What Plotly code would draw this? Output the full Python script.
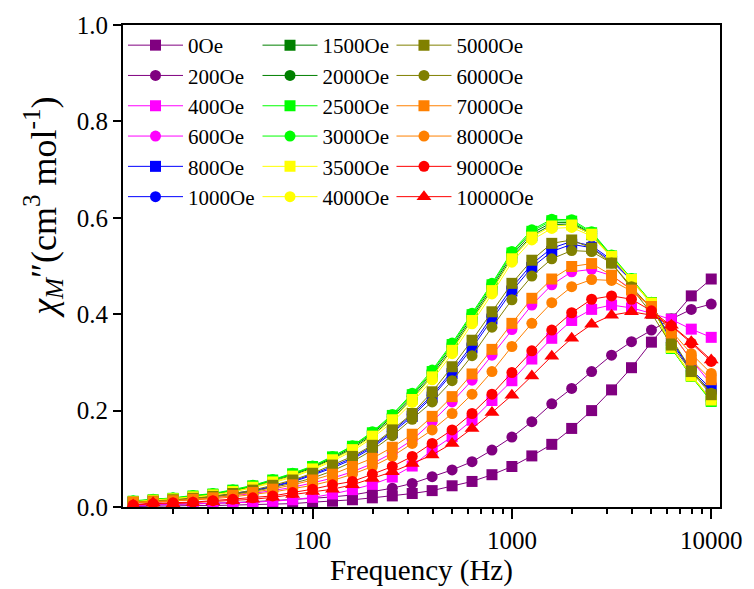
import plotly.graph_objects as go

freq = [12.59, 15.85, 19.95, 25.12, 31.62, 39.81, 50.12, 63.10, 79.43, 100.0,
        125.9, 158.5, 199.5, 251.2, 316.2, 398.1, 501.2, 631.0, 794.3, 1000.0,
        1259, 1585, 1995, 2512, 3162, 3981, 5012, 6310, 7943, 10000]

fields = ["0Oe", "200Oe", "400Oe", "600Oe", "800Oe", "1000Oe",
          "1500Oe", "2000Oe", "2500Oe", "3000Oe", "3500Oe", "4000Oe",
          "5000Oe", "6000Oe", "7000Oe", "8000Oe", "9000Oe", "10000Oe"]

chi_0 = [0.001, 0.002, 0.002, 0.003, 0.003, 0.004, 0.005, 0.006, 0.007, 0.010,
         0.012, 0.015, 0.019, 0.023, 0.028, 0.034, 0.044, 0.053, 0.067, 0.084,
         0.106, 0.130, 0.163, 0.200, 0.243, 0.289, 0.342, 0.390, 0.438, 0.473]
chi_200 = [0.003, 0.004, 0.005, 0.006, 0.007, 0.009, 0.011, 0.013, 0.015, 0.018,
           0.021, 0.025, 0.032, 0.039, 0.049, 0.063, 0.077, 0.094, 0.118, 0.145,
           0.177, 0.214, 0.246, 0.281, 0.315, 0.343, 0.367, 0.390, 0.410, 0.421]
chi_400 = [0.003, 0.004, 0.005, 0.006, 0.007, 0.008, 0.010, 0.012, 0.015, 0.020,
           0.027, 0.036, 0.047, 0.062, 0.085, 0.118, 0.146, 0.180, 0.221, 0.262,
           0.307, 0.350, 0.387, 0.410, 0.419, 0.413, 0.402, 0.389, 0.369, 0.352]
chi_600 = [0.008, 0.010, 0.012, 0.015, 0.019, 0.023, 0.028, 0.034, 0.041, 0.050,
           0.060, 0.073, 0.090, 0.112, 0.139, 0.177, 0.218, 0.263, 0.315, 0.368,
           0.419, 0.461, 0.488, 0.493, 0.480, 0.452, 0.415, 0.362, 0.305, 0.255]
chi_800 = [0.009, 0.012, 0.014, 0.017, 0.021, 0.027, 0.033, 0.042, 0.052, 0.066,
           0.081, 0.099, 0.123, 0.154, 0.188, 0.228, 0.277, 0.330, 0.390, 0.448,
           0.497, 0.530, 0.545, 0.538, 0.510, 0.470, 0.423, 0.345, 0.285, 0.245]
chi_1000 = [0.009, 0.012, 0.015, 0.018, 0.022, 0.028, 0.034, 0.043, 0.054, 0.068,
            0.084, 0.102, 0.126, 0.157, 0.192, 0.232, 0.282, 0.336, 0.396, 0.455,
            0.504, 0.537, 0.551, 0.542, 0.513, 0.471, 0.424, 0.342, 0.282, 0.240]
chi_1500 = [0.011, 0.014, 0.017, 0.021, 0.026, 0.033, 0.042, 0.053, 0.066, 0.081,
            0.100, 0.121, 0.149, 0.183, 0.226, 0.273, 0.328, 0.390, 0.452, 0.518,
            0.563, 0.586, 0.587, 0.565, 0.519, 0.472, 0.424, 0.331, 0.273, 0.222]
chi_2000 = [0.012, 0.015, 0.018, 0.022, 0.027, 0.034, 0.043, 0.055, 0.068, 0.083,
            0.102, 0.124, 0.152, 0.187, 0.230, 0.278, 0.333, 0.395, 0.457, 0.523,
            0.568, 0.590, 0.590, 0.567, 0.520, 0.472, 0.424, 0.330, 0.272, 0.221]
chi_2500 = [0.012, 0.015, 0.018, 0.023, 0.027, 0.035, 0.044, 0.056, 0.069, 0.084,
            0.104, 0.126, 0.154, 0.190, 0.233, 0.281, 0.337, 0.399, 0.461, 0.527,
            0.572, 0.594, 0.593, 0.569, 0.521, 0.473, 0.424, 0.329, 0.271, 0.219]
chi_3000 = [0.013, 0.016, 0.019, 0.024, 0.028, 0.036, 0.045, 0.057, 0.070, 0.085,
            0.105, 0.127, 0.156, 0.192, 0.236, 0.284, 0.340, 0.402, 0.464, 0.530,
            0.575, 0.597, 0.596, 0.571, 0.523, 0.474, 0.425, 0.330, 0.272, 0.220]
chi_3500 = [0.011, 0.014, 0.017, 0.021, 0.025, 0.032, 0.041, 0.052, 0.064, 0.079,
            0.098, 0.119, 0.147, 0.181, 0.223, 0.270, 0.325, 0.387, 0.449, 0.515,
            0.560, 0.583, 0.585, 0.566, 0.520, 0.472, 0.423, 0.331, 0.272, 0.222]
chi_4000 = [0.010, 0.013, 0.016, 0.020, 0.024, 0.031, 0.040, 0.050, 0.062, 0.077,
            0.095, 0.116, 0.143, 0.176, 0.217, 0.264, 0.318, 0.380, 0.442, 0.508,
            0.554, 0.578, 0.580, 0.562, 0.518, 0.470, 0.421, 0.332, 0.274, 0.223]
chi_5000 = [0.010, 0.012, 0.015, 0.018, 0.022, 0.028, 0.035, 0.045, 0.056, 0.070,
            0.087, 0.105, 0.128, 0.160, 0.194, 0.239, 0.291, 0.346, 0.405, 0.464,
            0.512, 0.547, 0.554, 0.537, 0.506, 0.454, 0.402, 0.336, 0.281, 0.233]
chi_6000 = [0.009, 0.011, 0.014, 0.017, 0.021, 0.026, 0.032, 0.040, 0.049, 0.060,
            0.075, 0.094, 0.118, 0.148, 0.182, 0.218, 0.262, 0.314, 0.373, 0.430,
            0.479, 0.515, 0.532, 0.530, 0.506, 0.457, 0.412, 0.350, 0.284, 0.236]
chi_7000 = [0.010, 0.011, 0.013, 0.016, 0.019, 0.024, 0.030, 0.037, 0.046, 0.056,
            0.068, 0.084, 0.101, 0.124, 0.151, 0.188, 0.229, 0.276, 0.327, 0.381,
            0.433, 0.473, 0.499, 0.505, 0.481, 0.450, 0.416, 0.361, 0.305, 0.264]
chi_8000 = [0.008, 0.010, 0.012, 0.014, 0.017, 0.021, 0.026, 0.031, 0.038, 0.045,
            0.055, 0.068, 0.084, 0.105, 0.132, 0.160, 0.194, 0.234, 0.281, 0.333,
            0.381, 0.424, 0.457, 0.472, 0.470, 0.448, 0.415, 0.365, 0.318, 0.277]
chi_9000 = [0.004, 0.007, 0.009, 0.010, 0.013, 0.016, 0.019, 0.023, 0.030, 0.037,
            0.046, 0.053, 0.068, 0.084, 0.105, 0.132, 0.160, 0.194, 0.234, 0.279,
            0.324, 0.367, 0.403, 0.431, 0.438, 0.431, 0.407, 0.376, 0.340, 0.302]
chi_10000 = [0.004, 0.009, 0.007, 0.009, 0.011, 0.013, 0.016, 0.020, 0.026, 0.032,
             0.037, 0.046, 0.059, 0.073, 0.090, 0.108, 0.132, 0.163, 0.196, 0.232,
             0.272, 0.313, 0.350, 0.379, 0.398, 0.405, 0.398, 0.377, 0.343, 0.305]

series = [chi_0, chi_200, chi_400, chi_600, chi_800, chi_1000,
          chi_1500, chi_2000, chi_2500, chi_3000, chi_3500, chi_4000,
          chi_5000, chi_6000, chi_7000, chi_8000, chi_9000, chi_10000]

colors = ["#800080", "#800080", "#FF00FF", "#FF00FF", "#0000FF", "#0000FF",
          "#008000", "#008000", "#00FF00", "#00FF00", "#FFFF00", "#FFFF00",
          "#808000", "#808000", "#FF8000", "#FF8000", "#FF0000", "#FF0000"]
symbols = ["square", "circle", "square", "circle", "square", "circle",
           "square", "circle", "square", "circle", "square", "circle",
           "square", "circle", "square", "circle", "circle", "triangle-up"]

FONT = "Times New Roman"

fig = go.Figure()
legend_names = ["legend", "legend2", "legend3"]
for i, (name, y) in enumerate(zip(fields, series)):
    fig.add_trace(go.Scatter(
        x=freq, y=y, name=name, mode="lines+markers",
        line=dict(color=colors[i], width=1),
        marker=dict(color=colors[i], symbol=symbols[i],
                    size=11 if symbols[i] != "triangle-up" else 13,
                    line=dict(width=0)),
        legend=legend_names[i // 6], legendgroup=name,
    ))

leg_common = dict(font=dict(family=FONT, size=21, color="black"), bgcolor="rgba(0,0,0,0)",
                  borderwidth=0, itemwidth=55, tracegroupgap=0, yanchor="top", xanchor="left",
                  y=1.0)
minor_vals = [m * 10 ** d for d in range(1, 5) for m in range(2, 10)]

fig.update_layout(
    width=754, height=589,
    margin=dict(l=123, r=31, t=25, b=82),
    plot_bgcolor="white", paper_bgcolor="white",
    font=dict(family=FONT, color="black"),
    showlegend=True,
    legend=dict(x=0.0, **leg_common),
    legend2=dict(x=0.2253, **leg_common),
    legend3=dict(x=0.4497, **leg_common),
    xaxis=dict(
        type="log", range=[1.049, 4.044],
        title=dict(text="Frequency (Hz)", font=dict(size=29, family=FONT), standoff=2),
        tickmode="array", tickvals=[100, 1000, 10000], ticktext=["100", "1000", "10000"],
        ticks="outside", ticklen=10, tickwidth=1.5, tickcolor="black",
        tickfont=dict(size=25, family=FONT),
        showline=True, linewidth=2, linecolor="black", mirror=True,
        showgrid=False, zeroline=False,
        minor=dict(tickmode="array", tickvals=minor_vals, ticks="outside", ticklen=5,
                   tickwidth=1.5, tickcolor="black", showgrid=False),
    ),
    yaxis=dict(
        range=[0, 1.0],
        tickmode="array", tickvals=[0, 0.2, 0.4, 0.6, 0.8, 1.0],
        ticktext=["0.0", "0.2", "0.4", "0.6", "0.8", "1.0"],
        ticks="outside", ticklen=8, tickwidth=1.5, tickcolor="black",
        tickfont=dict(size=25, family=FONT),
        showline=True, linewidth=2, linecolor="black", mirror=True,
        showgrid=False, zeroline=False,
    ),
    annotations=[dict(
        text="<i>χ<sub>M</sub></i>″(cm<sup>3</sup> mol<sup>-1</sup>)",
        xref="paper", yref="paper", x=-0.133, y=0.622,
        xanchor="center", yanchor="middle", textangle=-90, showarrow=False,
        font=dict(size=36, family=FONT, color="black"),
    )],
)

fig.write_html("out.html")
